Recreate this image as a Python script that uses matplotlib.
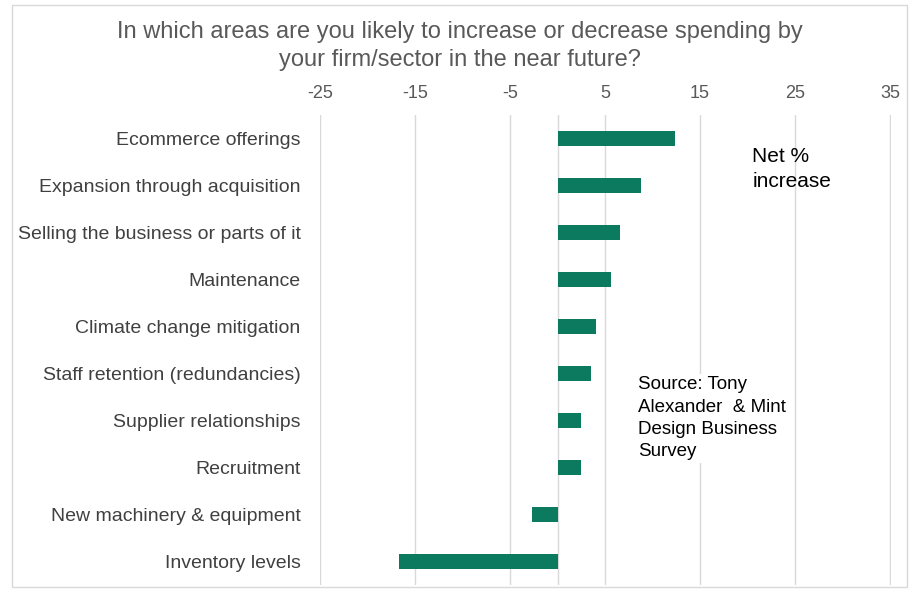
import matplotlib as mpl
import matplotlib.pyplot as plt
import numpy as np

mpl.rc('font', family='Liberation Sans')
mpl.rc('axes', unicode_minus=False)

categories = ["Ecommerce offerings", "Expansion through acquisition",
              "Selling the business or parts of it", "Maintenance",
              "Climate change mitigation", "Staff retention (redundancies)",
              "Supplier relationships", "Recruitment",
              "New machinery & equipment", "Inventory levels"]
net_increase = [12.4, 8.8, 6.6, 5.6, 4.1, 3.5, 2.5, 2.5, -2.7, -16.7]
xticks = [-25, -15, -5, 5, 15, 25, 35]

fig = plt.figure(figsize=(9.17, 5.95), dpi=100, facecolor="w")
ax = fig.add_axes([320/917., 10/595., 571/917., 470/595.])

y = np.arange(len(categories))
ax.barh(y, net_increase, height=0.33, color="#0b7a5e", zorder=3)
ax.set_ylim(len(categories) - 0.5, -0.5)
ax.set_yticks(y)
ax.set_yticklabels(categories, fontsize=14, color="#404040")
ax.set_xlim(-25, 35.1)
ax.set_xticks(xticks)
ax.xaxis.tick_top()
ax.tick_params(axis='x', labelsize=13, labelcolor="#595959", length=0, pad=9)
ax.tick_params(axis='y', length=0, pad=14)
ax.grid(axis='x', color="#d9d9d9", linewidth=1, zorder=0)
ax.axvline(0, color="#d9d9d9", linewidth=1, zorder=1)
for s in ax.spines.values():
  s.set_visible(False)

fig.text(0.502, 1 - 46/595., "In which areas are you likely to increase or decrease spending by\nyour firm/sector in the near future?",
  ha="center", va="center", fontsize=17, color="#595959", linespacing=1.3)

ax.text(20.5, 0.65, "Net %\nincrease", fontsize=15, color="black",
  va="center", ha="left", linespacing=1.35)
ax.text(8.5, 5.95, "Source: Tony\nAlexander  & Mint\nDesign Business\nSurvey", fontsize=13.5,
  color="black", va="center", ha="left", linespacing=1.4, zorder=4,
  bbox=dict(facecolor="white", edgecolor="none", pad=2))

border = plt.Rectangle((12/917., 8/595.), 895/917., 582/595., transform=fig.transFigure,
  fill=False, edgecolor="#d9d9d9", linewidth=1)
fig.patches.append(border)

fig.savefig("out.png", dpi=100)
